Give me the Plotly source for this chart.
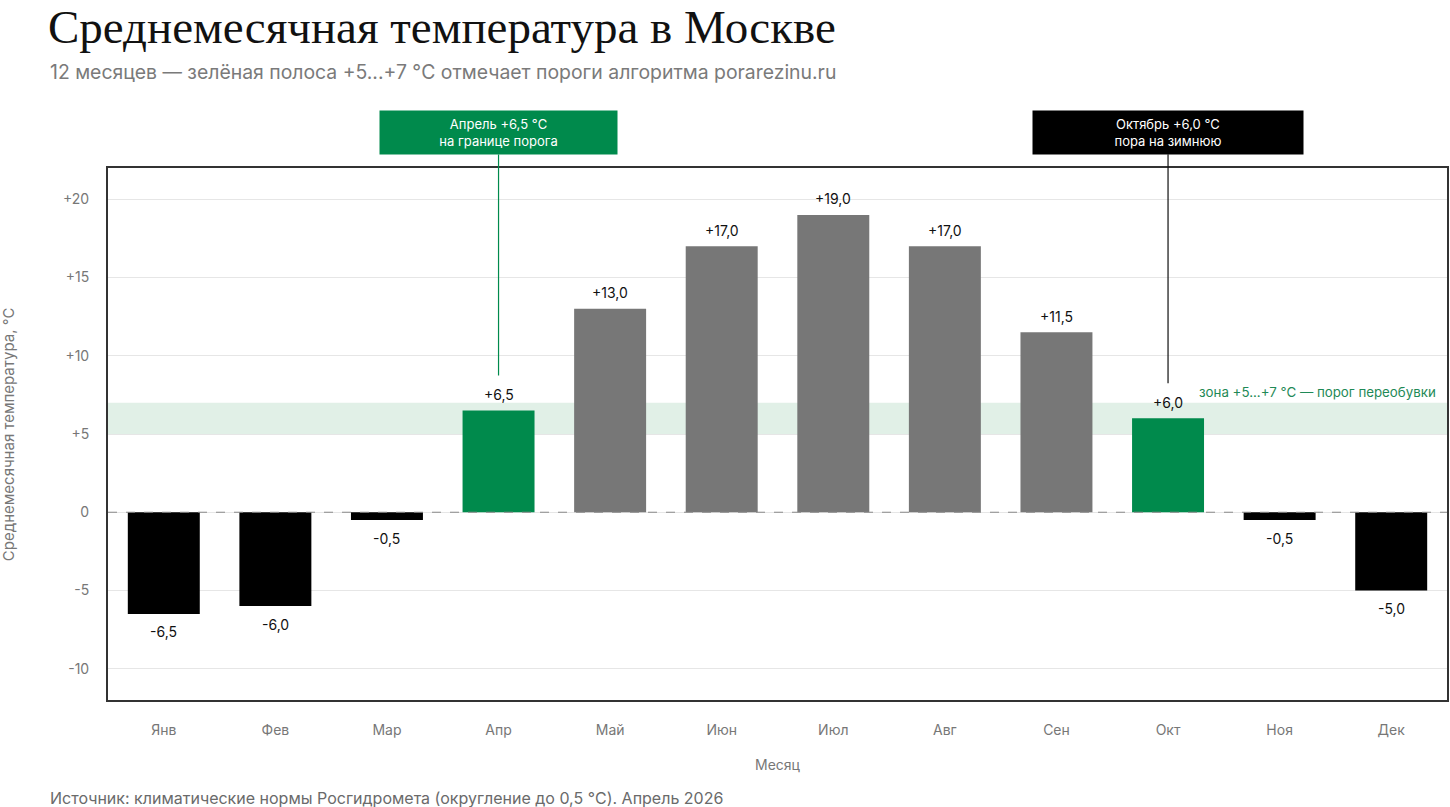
import plotly.graph_objects as go

months = ["Янв", "Фев", "Мар", "Апр", "Май", "Июн", "Июл", "Авг", "Сен", "Окт", "Ноя", "Дек"]
temps = [-6.5, -6.0, -0.5, 6.5, 13.0, 17.0, 19.0, 17.0, 11.5, 6.0, -0.5, -5.0]
band_low, band_high = 5, 7
y_ticks = [-10, -5, 0, 5, 10, 15, 20]
y_tick_labels = ["-10", "-5", "0", "+5", "+10", "+15", "+20"]

GREEN = "#008a4c"
GRAY = "#777777"
BLACK = "#000000"
SANS = "Inter, 'Open Sans', sans-serif"


def fmt(v):
    return f"{v:+.1f}".replace(".", ",")


def color_for(v):
    if v < 0:
        return BLACK
    if band_low <= v <= band_high:
        return GREEN
    return GRAY


colors = [color_for(v) for v in temps]

fig = go.Figure()
fig.add_trace(go.Bar(
    x=months, y=temps, marker=dict(color=colors, line=dict(width=0)),
    hoverinfo="x+y", showlegend=False,
))

annotations = []
for m, v in zip(months, temps):
    annotations.append(dict(
        x=m, y=v, text=fmt(v), showarrow=False,
        yshift=16 if v > 0 else -18,
        font=dict(family=SANS, size=14, color="#111111"),
    ))

# callouts
annotations.append(dict(
    x="Апр", y=6.5, text="Апрель +6,5 °C<br>на границе порога",
    showarrow=True, arrowhead=0, arrowwidth=1.2, arrowcolor=GREEN,
    ax=0, ay=-278, standoff=35,
    bgcolor=GREEN, width=229, height=35, borderpad=4,
    font=dict(family=SANS, size=13, color="white"),
))
annotations.append(dict(
    x="Окт", y=6.0, text="Октябрь +6,0 °C<br>пора на зимнюю",
    showarrow=True, arrowhead=0, arrowwidth=1.2, arrowcolor="#111111",
    ax=0, ay=-286, standoff=35,
    bgcolor=BLACK, width=262, height=35, borderpad=4,
    font=dict(family=SANS, size=13, color="white"),
))
annotations.append(dict(
    x=(1440 - 108) / 1341, xref="paper", y=7.7, yref="y", xanchor="right",
    text="зона +5...+7 °C — порог переобувки", showarrow=False,
    font=dict(family=SANS, size=13.3, color="#1f8a57"),
))
# subtitle
annotations.append(dict(
    x=(48 - 108) / 1341, xref="paper", y=(700 - 72) / 532, yref="paper",
    xanchor="left", yanchor="middle", showarrow=False,
    text="12 месяцев — зелёная полоса +5...+7 °C отмечает пороги алгоритма porarezinu.ru",
    font=dict(family=SANS, size=19.4, color="#7a7a7a"),
))
# footer
annotations.append(dict(
    x=(48 - 108) / 1341, xref="paper", y=(700 - 798) / 532, yref="paper",
    xanchor="left", yanchor="middle", showarrow=False,
    text="Источник: климатические нормы Росгидромета (округление до 0,5 °C). Апрель 2026",
    font=dict(family=SANS, size=16, color="#6a6a6a"),
))
# axis titles
annotations.append(dict(
    x=(8 - 108) / 1341, xref="paper", y=0.5, yref="paper",
    xanchor="center", yanchor="middle", textangle=-90, showarrow=False,
    text="Среднемесячная температура, °C",
    font=dict(family=SANS, size=15, color="#777777"),
))
annotations.append(dict(
    x=0.5, xref="paper", y=(700 - 764) / 532, yref="paper",
    xanchor="center", yanchor="middle", showarrow=False,
    text="Месяц",
    font=dict(family=SANS, size=14, color="#777777"),
))

shapes = [
    dict(type="rect", xref="paper", x0=0, x1=1, yref="y", y0=band_low, y1=band_high,
         fillcolor="#e1f0e7", line=dict(width=0), layer="below"),
    dict(type="line", xref="paper", x0=0, x1=1, yref="y", y0=0, y1=0,
         line=dict(color="#888888", width=1, dash="dash"), layer="above"),
]

fig.update_layout(
    width=1450, height=807,
    margin=dict(l=108, r=1, t=168, b=107),
    paper_bgcolor="white", plot_bgcolor="white",
    bargap=0.355,
    title=dict(
        text="Среднемесячная температура в Москве",
        x=48 / 1450, xref="container", xanchor="left",
        y=1 - 27 / 807, yref="container", yanchor="middle",
        font=dict(family="'Liberation Serif', 'DejaVu Serif', serif", size=47, color="#111111"),
    ),
    annotations=annotations,
    shapes=shapes,
    xaxis=dict(
        type="category", range=[-0.5, 11.5],
        showline=True, mirror=True, linecolor="#333333", linewidth=2,
        showgrid=False, ticks="", ticklabelstandoff=16,
        tickfont=dict(family=SANS, size=14, color="#777777"),
    ),
    yaxis=dict(
        range=[-12, 22], tickvals=y_ticks, ticktext=y_tick_labels,
        showline=True, mirror=True, linecolor="#333333", linewidth=2,
        showgrid=True, gridcolor="#e6e6e6", gridwidth=1, zeroline=False,
        ticks="", ticklabelstandoff=14,
        tickfont=dict(family=SANS, size=14, color="#777777"),
    ),
)

fig.write_html(
    "out.html",
    config={"displayModeBar": False},
    post_script="document.body.style.margin='0';document.body.style.overflow='hidden';",
)
